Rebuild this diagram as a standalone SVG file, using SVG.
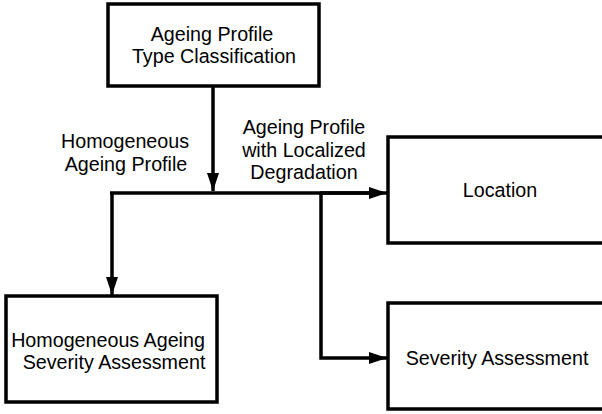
<svg xmlns="http://www.w3.org/2000/svg" width="602" height="414" viewBox="0 0 602 414">
<defs>
<style>
.box{fill:#fff;stroke:#000;stroke-width:3.5}
.ln{fill:none;stroke:#000;stroke-width:3.5}
text{font-family:"Liberation Sans",Arial,sans-serif;font-size:19.7px;fill:#000;text-anchor:middle}
</style>
<marker id="ah" markerUnits="userSpaceOnUse" markerWidth="18" markerHeight="12" refX="18" refY="6" orient="auto">
<path d="M0,0 L18,6 L0,12 Z" fill="#000"/>
</marker>
</defs>
<rect width="602" height="414" fill="#fff"/>
<g id="connectors">
<line class="ln" x1="213" y1="87" x2="213" y2="191" marker-end="url(#ah)"/>
<polyline class="ln" points="110,193 370,193"/>
<line class="ln" x1="320" y1="193" x2="387" y2="193" marker-end="url(#ah)"/>
<line class="ln" x1="112" y1="192" x2="112" y2="295" marker-end="url(#ah)"/>
<polyline class="ln" points="321,194 321,358 387,358" marker-end="url(#ah)"/>
<text x="125" y="148">Homogeneous</text>
<text x="126" y="171">Ageing Profile</text>
<text x="304" y="134">Ageing Profile</text>
<text x="304" y="157">with Localized</text>
<text x="304" y="179">Degradation</text>
</g>
<g id="n1">
<rect class="box" x="108" y="4" width="211" height="82"/>
<text x="212" y="41">Ageing Profile</text>
<text x="214" y="63">Type Classification</text>
</g>
<g id="n2">
<rect class="box" x="388" y="137" width="220" height="106"/>
<text x="500" y="197">Location</text>
</g>
<g id="n3">
<rect class="box" x="388" y="303" width="220" height="106"/>
<text x="497" y="365">Severity Assessment</text>
</g>
<g id="n4">
<rect class="box" x="6" y="296" width="211" height="106"/>
<text x="108" y="347">Homogeneous Ageing</text>
<text x="114" y="369">Severity Assessment</text>
</g>
</svg>
